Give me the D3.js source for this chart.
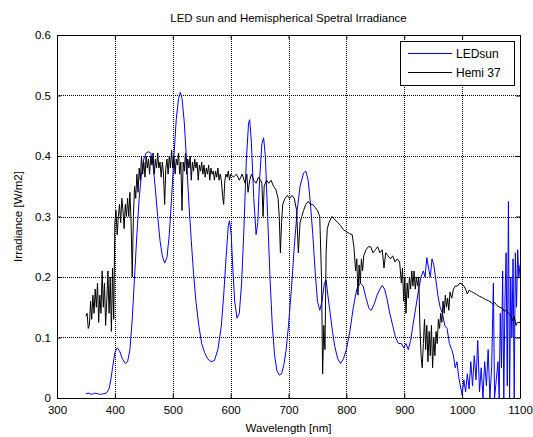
<!DOCTYPE html>
<html>
<head>
    <meta charset="utf-8">
    <style> body { margin: 0; background: #fff; } </style>
    <script src="https://d3js.org/d3.v7.min.js"></script>
</head>
<body>
<div id="chart"></div>
<script>
    // LEDsun spectrum (blue)
    const ledWl = [350,355,360,365,370,375,380,385,390,393,396,400,404,408,413,418,422,426,430,434,438,442,446,450,454,458,462,466,470,474,478,482,486,490,494,498,502,506,510,513,516,520,524,528,532,536,540,545,550,555,560,566,572,578,584,588,592,596,598,601,604,607,611,615,619,623,627,631,633,636,640,644,647,650,654,657,660,664,668,672,676,680,684,688,692,696,700,705,710,715,720,726,730,734,738,742,746,750,754,758,762,765,768,772,776,780,785,790,795,800,806,812,818,824,829,834,839,843,848,853,858,862,866,870,875,880,885,890,895,899,903,907,911,915,920,925,929,933,936,939,942,945,948,951,954,958,962,966,970,974,978,982,985,988,991,994,997,1000,1003,1006,1009,1012,1015,1018,1021,1024,1027,1030,1033,1036,1039,1042,1045,1048,1051,1054,1056,1059,1062,1064,1066,1068,1070,1072,1074,1076,1078,1080,1082,1084,1086,1088,1090,1092,1094,1096,1098,1100];
    const ledVal = [0.007,0.008,0.006,0.008,0.007,0.006,0.007,0.008,0.015,0.03,0.05,0.075,0.083,0.078,0.065,0.057,0.06,0.08,0.13,0.2,0.27,0.33,0.37,0.395,0.405,0.407,0.405,0.385,0.345,0.3,0.26,0.235,0.223,0.232,0.27,0.33,0.4,0.46,0.495,0.505,0.495,0.455,0.39,0.32,0.26,0.205,0.16,0.12,0.09,0.075,0.065,0.06,0.062,0.08,0.12,0.17,0.23,0.285,0.293,0.27,0.21,0.16,0.132,0.14,0.19,0.28,0.39,0.455,0.46,0.42,0.33,0.27,0.29,0.36,0.42,0.43,0.4,0.3,0.2,0.12,0.07,0.045,0.038,0.04,0.055,0.08,0.12,0.18,0.25,0.31,0.35,0.372,0.375,0.36,0.32,0.27,0.21,0.16,0.145,0.16,0.19,0.195,0.17,0.14,0.11,0.085,0.065,0.057,0.065,0.08,0.11,0.15,0.18,0.19,0.185,0.165,0.148,0.145,0.155,0.17,0.18,0.186,0.18,0.165,0.14,0.12,0.1,0.09,0.09,0.083,0.09,0.08,0.095,0.12,0.15,0.18,0.2,0.21,0.2,0.232,0.215,0.2,0.23,0.22,0.2,0.17,0.15,0.14,0.12,0.115,0.09,0.08,0.07,0.05,0.06,0.035,0.02,0.005,0.03,0.01,0.04,0.015,0.06,0.02,0.07,0.03,0.095,0.01,0.05,0,0.06,0.02,0.08,0,0.05,0.19,0,0.03,0.06,0,0.14,0.05,0.21,0,0.16,0.24,0.02,0.325,0,0.2,0.1,0.23,0,0.24,0.15,0.245,0.2,0.22];

    // Hemispherical spectrum (black)
    const hemiWl = [350,352,354,356,358,360,362,364,366,368,370,372,374,376,378,380,382,384,386,388,390,392,394,396,398,400,402,404,406,408,410,412,414,416,418,420,422,424,426,428,430,432,434,436,438,440,442,444,446,448,450,452,454,456,458,460,462,464,466,468,470,472,474,476,478,480,482,484,486,488,490,492,494,496,498,500,502,504,506,508,510,512,514,516,518,520,522,524,526,528,530,532,534,536,538,540,542,544,546,548,550,552,554,556,558,560,562,564,566,568,570,572,574,576,578,580,582,584,586,588,590,592,594,596,598,600,605,610,615,620,625,628,630,633,636,640,644,648,652,654,656,658,662,666,670,674,678,682,684,686,688,690,694,698,702,706,710,714,717,720,723,726,730,734,738,742,746,750,754,757,759,761,763,765,767,770,775,780,785,790,795,800,805,810,813,816,818,820,822,824,826,828,830,834,838,842,846,850,854,858,862,865,868,872,876,880,884,888,892,895,897,899,901,903,905,907,909,911,913,915,917,919,921,923,925,927,929,931,933,935,937,939,941,943,945,947,949,951,953,955,957,959,961,963,965,967,969,971,973,975,977,979,982,985,988,992,996,1000,1003,1006,1009,1012,1016,1020,1025,1030,1035,1040,1045,1050,1053,1056,1060,1065,1070,1073,1076,1080,1084,1087,1090,1093,1096,1100];
    const hemiVal = [0.135,0.14,0.115,0.12,0.16,0.13,0.17,0.14,0.18,0.15,0.19,0.125,0.17,0.14,0.21,0.15,0.19,0.12,0.16,0.21,0.14,0.2,0.11,0.215,0.13,0.29,0.31,0.27,0.3,0.32,0.29,0.33,0.31,0.28,0.32,0.3,0.33,0.3,0.34,0.29,0.2,0.3,0.35,0.33,0.37,0.34,0.38,0.36,0.4,0.37,0.39,0.365,0.4,0.38,0.395,0.37,0.4,0.385,0.405,0.37,0.395,0.38,0.405,0.38,0.39,0.365,0.39,0.37,0.32,0.38,0.395,0.37,0.4,0.38,0.41,0.38,0.4,0.37,0.395,0.385,0.405,0.37,0.39,0.31,0.39,0.375,0.405,0.37,0.395,0.38,0.4,0.36,0.39,0.375,0.395,0.38,0.39,0.36,0.385,0.375,0.39,0.37,0.385,0.365,0.38,0.37,0.385,0.36,0.38,0.37,0.375,0.36,0.375,0.365,0.38,0.36,0.37,0.36,0.335,0.32,0.36,0.37,0.365,0.375,0.36,0.37,0.365,0.37,0.36,0.37,0.355,0.37,0.34,0.36,0.37,0.36,0.355,0.365,0.36,0.355,0.3,0.35,0.36,0.355,0.36,0.35,0.345,0.33,0.3,0.24,0.29,0.32,0.33,0.335,0.33,0.335,0.33,0.31,0.24,0.29,0.3,0.31,0.32,0.325,0.32,0.32,0.315,0.31,0.3,0.2,0.04,0.12,0.08,0.24,0.28,0.29,0.3,0.295,0.29,0.285,0.278,0.275,0.272,0.27,0.25,0.21,0.23,0.17,0.22,0.19,0.23,0.21,0.235,0.245,0.25,0.25,0.24,0.245,0.25,0.24,0.245,0.215,0.24,0.235,0.23,0.235,0.225,0.23,0.225,0.19,0.215,0.16,0.2,0.14,0.19,0.165,0.2,0.18,0.21,0.185,0.21,0.18,0.2,0.185,0.2,0.12,0.07,0.05,0.09,0.13,0.08,0.12,0.06,0.11,0.07,0.12,0.05,0.1,0.07,0.11,0.09,0.13,0.115,0.14,0.125,0.16,0.14,0.17,0.15,0.165,0.145,0.175,0.165,0.18,0.185,0.185,0.19,0.188,0.185,0.18,0.172,0.178,0.176,0.174,0.171,0.168,0.166,0.163,0.161,0.158,0.155,0.158,0.153,0.15,0.148,0.143,0.146,0.14,0.136,0.128,0.135,0.12,0.125,0.125];

    const xTicks = [300,400,500,600,700,800,900,1000,1100];
    const yTicks = [0,0.1,0.2,0.3,0.4,0.5,0.6];
    const seriesNames = ["LEDsun", "Hemi 37"];
    const seriesColors = ["#0000ff", "#000000"];

    const width = 533, height = 437;
    const m = {left: 57, right: 13, top: 35, bottom: 39};
    const font = "'Liberation Sans', Arial, sans-serif";

    const svg = d3.select("#chart").append("svg")
        .attr("width", width)
        .attr("height", height)
        .style("font-family", font);

    const x = d3.scaleLinear().domain([300, 1100]).range([m.left, width - m.right]);
    const y = d3.scaleLinear().domain([0, 0.6]).range([height - m.bottom, m.top]);

    svg.append("clipPath").attr("id", "clip")
        .append("rect")
        .attr("x", m.left).attr("y", m.top)
        .attr("width", width - m.left - m.right)
        .attr("height", height - m.top - m.bottom);

    // grid (dotted, MATLAB style)
    const grid = svg.append("g").attr("stroke", "#000").attr("stroke-dasharray", "1,1").attr("stroke-width", 1);
    grid.selectAll(".gx").data(xTicks.slice(1, -1)).join("line")
        .attr("x1", d => Math.round(x(d)) + 0.5).attr("x2", d => Math.round(x(d)) + 0.5)
        .attr("y1", m.top).attr("y2", height - m.bottom);
    grid.selectAll(".gy").data(yTicks.slice(1, -1)).join("line")
        .attr("y1", d => Math.round(y(d)) + 0.5).attr("y2", d => Math.round(y(d)) + 0.5)
        .attr("x1", m.left).attr("x2", width - m.right);

    // lines
    const line = d3.line().x(d => x(d[0])).y(d => y(d[1]));
    const ledData = ledWl.map((w, i) => [w, ledVal[i]]);
    const hemiData = hemiWl.map((w, i) => [w, hemiVal[i]]);

    const plot = svg.append("g").attr("clip-path", "url(#clip)");
    plot.append("path").datum(ledData)
        .attr("d", line).attr("fill", "none")
        .attr("stroke", seriesColors[0]).attr("stroke-width", 1);
    plot.append("path").datum(hemiData)
        .attr("d", line).attr("fill", "none")
        .attr("stroke", seriesColors[1]).attr("stroke-width", 1);

    // axes: inward ticks on all four sides
    const axB = svg.append("g").attr("transform", `translate(0,${height - m.bottom})`)
        .call(d3.axisBottom(x).tickValues(xTicks).tickSizeInner(-4).tickSizeOuter(0).tickPadding(8).tickFormat(d3.format("d")));
    const axT = svg.append("g").attr("transform", `translate(0,${m.top})`)
        .call(d3.axisTop(x).tickValues(xTicks).tickSizeInner(-4).tickSizeOuter(0).tickFormat(""));
    const axL = svg.append("g").attr("transform", `translate(${m.left},0)`)
        .call(d3.axisLeft(y).tickValues(yTicks).tickSizeInner(-4).tickSizeOuter(0).tickPadding(6).tickFormat(d3.format("")));
    const axR = svg.append("g").attr("transform", `translate(${width - m.right},0)`)
        .call(d3.axisRight(y).tickValues(yTicks).tickSizeInner(-4).tickSizeOuter(0).tickFormat(""));

    [axB, axT, axL, axR].forEach(a => {
        a.selectAll("text").attr("font-size", 11.5).attr("font-family", font).attr("fill", "#000");
        a.selectAll("line").attr("stroke", "#000");
        a.select(".domain").attr("stroke", "#000");
    });

    // title and labels
    svg.append("text")
        .attr("x", (m.left + width - m.right) / 2).attr("y", 22)
        .attr("text-anchor", "middle").attr("font-size", 11.5)
        .text("LED sun and Hemispherical Spetral Irradiance");
    svg.append("text")
        .attr("x", (m.left + width - m.right) / 2).attr("y", 432)
        .attr("text-anchor", "middle").attr("font-size", 11.5)
        .text("Wavelength [nm]");
    svg.append("text")
        .attr("transform", `translate(22,${(m.top + height - m.bottom) / 2}) rotate(-90)`)
        .attr("text-anchor", "middle").attr("font-size", 11.5)
        .text("Irradiance [W/m2]");

    // legend
    const lg = svg.append("g");
    lg.append("rect")
        .attr("x", 400.5).attr("y", 41.5).attr("width", 114).attr("height", 44)
        .attr("fill", "#fff").attr("stroke", "#000");
    seriesNames.forEach((name, i) => {
        lg.append("line")
            .attr("x1", 408).attr("x2", 452)
            .attr("y1", 53.5 + i * 19).attr("y2", 53.5 + i * 19)
            .attr("stroke", seriesColors[i]);
        lg.append("text")
            .attr("x", 456).attr("y", 58 + i * 19)
            .attr("font-size", 12)
            .text(name);
    });
</script>
</body>
</html>
